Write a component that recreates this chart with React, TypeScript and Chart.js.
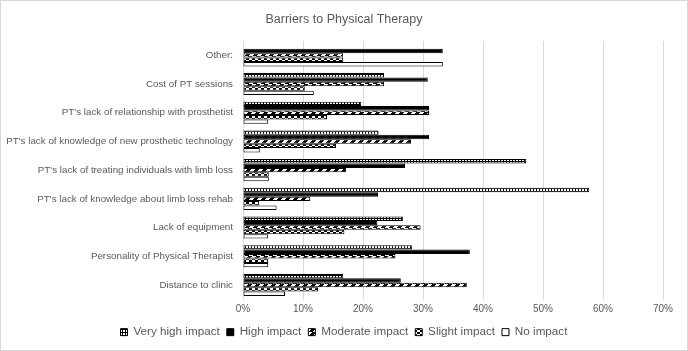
import React, { useEffect, useRef } from "react";
import { Chart, registerables } from "chart.js";

Chart.register(...registerables);

const categories = [
  "Other:",
  "Cost of PT sessions",
  "PT's lack of relationship with prosthetist",
  "PT's lack of knowledge of new prosthetic technology",
  "PT's lack of treating individuals with limb loss",
  "PT's lack of knowledge about limb loss rehab",
  "Lack of equipment",
  "Personality of Physical Therapist",
  "Distance to clinic",
];

const seriesNames = ["Very high impact", "High impact", "Moderate impact", "Slight impact", "No impact"];

const veryHigh = [0, 23.5, 19.7, 22.6, 47.2, 57.7, 26.7, 28.2, 16.7];
const high = [33.3, 30.8, 31.0, 31.0, 27.0, 22.5, 22.4, 37.8, 26.3];
const moderate = [16.7, 23.5, 31.0, 28.0, 17.2, 11.2, 29.6, 25.4, 37.3];
const slight = [16.7, 10.3, 14.0, 15.5, 4.3, 2.7, 16.9, 4.2, 12.5];
const noImpact = [33.3, 11.8, 4.2, 2.8, 4.3, 5.6, 4.2, 4.2, 7.0];

const xTicks = [0, 10, 20, 30, 40, 50, 60, 70];

function makePattern(kind: string): CanvasPattern | string {
  const c = document.createElement("canvas");
  const ctx = c.getContext("2d")!;
  if (kind === "vertical") {
    c.width = 3; c.height = 3;
    ctx.fillStyle = "#000"; ctx.fillRect(0, 0, 3, 3);
    ctx.fillStyle = "#fff"; ctx.fillRect(0, 0, 2, 2);
  } else if (kind === "diag") {
    c.width = 8; c.height = 4;
    ctx.fillStyle = "#000"; ctx.fillRect(0, 0, 8, 4);
    ctx.fillStyle = "#fff";
    ctx.fillRect(4, 0, 4, 1);
    ctx.fillRect(3, 1, 4, 1);
    ctx.fillRect(2, 2, 4, 1);
    ctx.fillRect(1, 3, 4, 1);
  } else if (kind === "check") {
    c.width = 6; c.height = 4;
    ctx.fillStyle = "#000"; ctx.fillRect(0, 0, 6, 4);
    ctx.fillStyle = "#fff";
    ctx.fillRect(0, 0, 3, 2);
    ctx.fillRect(3, 2, 3, 2);
  }
  const p = ctx.createPattern(c, "repeat");
  return p || "#000";
}

const borderPlugin = {
  id: "outerBorder",
  afterDraw(chart: any) {
    const ctx = chart.ctx;
    ctx.save();
    ctx.strokeStyle = "#d9d9d9";
    ctx.lineWidth = 1;
    ctx.strokeRect(0.5, 0.5, chart.width - 1, chart.height - 1);
    ctx.restore();
  },
};

const FONT = "'Liberation Sans', Arial, sans-serif";

export default function App() {
  const ref = useRef<HTMLCanvasElement>(null);
  useEffect(() => {
    if (!ref.current) return;
    const fills: any[] = [makePattern("vertical"), "#000", makePattern("diag"), makePattern("check"), "#fff"];
    const values = [veryHigh, high, moderate, slight, noImpact];
    const chart = new Chart(ref.current, {
      type: "bar",
      data: {
        labels: categories,
        datasets: seriesNames.map((name, i) => ({
          label: name,
          data: values[i],
          backgroundColor: fills[i],
          borderColor: "#000",
          borderWidth: 1,
          borderSkipped: false,
          barPercentage: 1,
          categoryPercentage: 0.77,
        })),
      },
      options: {
        indexAxis: "y",
        animation: false,
        responsive: false,
        devicePixelRatio: 1,
        layout: { padding: { left: 0, right: 0, top: 0, bottom: 3 } },
        scales: {
          x: {
            min: 0,
            max: 70,
            afterBuildTicks(scale: any) {
              scale.ticks = xTicks.map((v) => ({ value: v }));
            },
            grid: { color: "#d9d9d9", drawTicks: false },
            border: { display: false },
            ticks: {
              padding: 4,
              color: "#595959",
              font: { family: FONT, size: 10 },
              callback: (v: any) => v + "%",
            },
          },
          y: {
            afterFit(scale: any) {
              scale.width = 243;
            },
            grid: { display: false, drawTicks: false },
            border: { display: false },
            ticks: {
              padding: 10,
              color: "#595959",
              autoSkip: false,
              font: { family: FONT, size: 9.8 },
            },
          },
          yRight: {
            type: "category",
            position: "right",
            afterFit(scale: any) {
              scale.width = 25;
            },
            grid: { display: false, drawTicks: false },
            border: { display: false },
            ticks: { display: false },
          },
        },
        plugins: {
          title: {
            display: true,
            text: "Barriers to Physical Therapy",
            color: "#595959",
            font: { family: FONT, size: 12.5, weight: "normal" },
            padding: { top: 12, bottom: 14 },
          },
          legend: {
            position: "bottom",
            labels: {
              boxWidth: 7,
              boxHeight: 7,
              padding: 7,
              color: "#595959",
              font: { family: FONT, size: 11.7 },
            },
          },
          tooltip: { enabled: false },
        },
      },
      plugins: [borderPlugin],
    } as any);
    return () => chart.destroy();
  }, []);
  return (
    <div style={{ position: "fixed", left: 0, top: 0, width: 688, height: 351, background: "#fff" }}>
      <canvas ref={ref} width={688} height={351} />
    </div>
  );
}
